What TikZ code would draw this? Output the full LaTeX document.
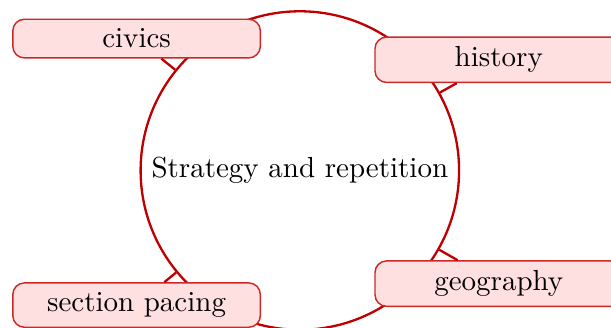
\documentclass[tikz,border=0pt]{standalone}
\definecolor{edgered}{RGB}{192,0,0}
\definecolor{boxfill}{RGB}{255,224,224}
\definecolor{boxdraw}{RGB}{205,40,40}
\tikzset{
  hub/.style={circle, draw=edgered, thick, inner sep=3.33pt},
  leaf/.style={rectangle, rounded corners=4pt, fill=boxfill, draw=boxdraw, line width=0.5pt, minimum width=3cm, inner sep=3.33pt},
  link/.style={draw=edgered, thick}
}
\begin{document}
\begin{tikzpicture}[x=1pt,y=1pt]
\useasboundingbox (-103.4,-54.3) rectangle (107.3,58.8);
\node[hub] (c) at (0,0) {Strategy and repetition};
\node[leaf] (civ) at (-56.3,45.5) {civics};
\node[leaf] (his) at (68.6,38.2) {history};
\node[leaf] (geo) at (68.6,-39.0) {geography};
\node[leaf] (sec) at (-56.3,-46.4) {section pacing};
\draw[link] (c) -- (civ);
\draw[link] (c) -- (his);
\draw[link] (c) -- (geo);
\draw[link] (c) -- (sec);
\end{tikzpicture}
\end{document}
